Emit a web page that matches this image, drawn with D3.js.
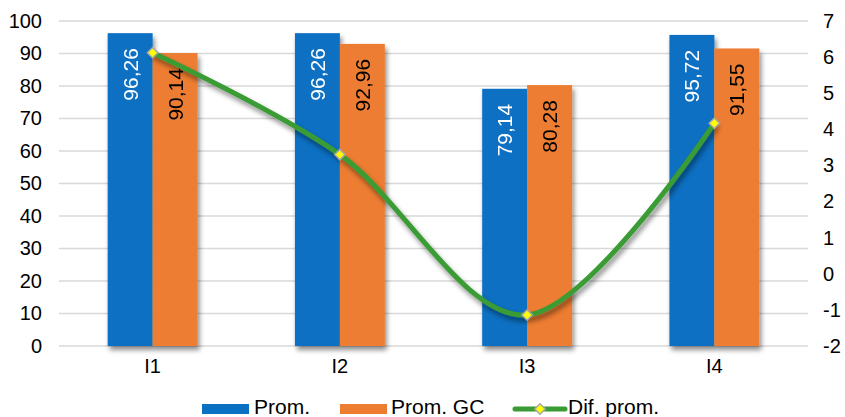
<!DOCTYPE html>
<html>
<head>
<meta charset="utf-8">
<script src="https://cdn.jsdelivr.net/npm/d3@7"></script>
<style>
  html, body { margin: 0; padding: 0; background: #fff; }
  svg { display: block; font-family: "Liberation Sans", Arial, Helvetica, sans-serif; }
</style>
</head>
<body>
<svg id="chart" width="845" height="417"></svg>
<script>
// Categories and series
const categories = ["I1", "I2", "I3", "I4"];
const prom = [96.26, 96.26, 79.14, 95.72];
const promGC = [90.14, 92.96, 80.28, 91.55];
const difProm = [6.12, 3.30, -1.14, 4.17];
const leftTicks = [0, 10, 20, 30, 40, 50, 60, 70, 80, 90, 100];
const rightTicks = [-2, -1, 0, 1, 2, 3, 4, 5, 6, 7];
const seriesNames = ["Prom.", "Prom. GC", "Dif. prom."];

const colors = { prom: "#0A70C2", gc: "#ED7D31", line: "#3A9B34", marker: "#FFFF00" };

const svg = d3.select("#chart");
const plot = { left: 59, right: 808, top: 21, bottom: 346 };

const locale = d3.formatLocale({ decimal: ",", thousands: ".", grouping: [3], currency: ["", ""], minus: "-" });
const fmt = locale.format(".2f");
const intFmt = locale.format("d");

const x = d3.scaleBand().domain(categories).range([plot.left, plot.right])
  .paddingInner(0.52).paddingOuter(0.26);
const xs = d3.scaleBand().domain(["prom", "gc"]).range([0, x.bandwidth()]);
const y = d3.scaleLinear().domain([0, 100]).range([plot.bottom, plot.top]);
const y2 = d3.scaleLinear().domain([-2, 7]).range([plot.bottom, plot.top]);

// Soft drop shadow used by bars and line
const defs = svg.append("defs");
const sh = defs.append("filter").attr("id", "shadow")
  .attr("x", "-20%").attr("y", "-20%").attr("width", "140%").attr("height", "140%");
sh.append("feDropShadow").attr("dx", 2).attr("dy", 4).attr("stdDeviation", 2.5)
  .attr("flood-color", "#000").attr("flood-opacity", 0.45);

// Horizontal gridlines
svg.append("g").selectAll("line").data(leftTicks).join("line")
  .attr("x1", plot.left).attr("x2", plot.right)
  .attr("y1", d => y(d)).attr("y2", d => y(d))
  .attr("stroke", "#D9D9D9").attr("stroke-width", 1.5);

// Axes (labels only)
function styleAxis(g) {
  g.select(".domain").remove();
  g.selectAll("text").attr("font-size", 20).attr("fill", "#000")
    .attr("font-family", "'Liberation Sans', Arial, sans-serif");
}
svg.append("g").attr("transform", `translate(${plot.left},0)`)
  .call(d3.axisLeft(y).tickValues(leftTicks).tickSize(0).tickPadding(17).tickFormat(intFmt))
  .call(styleAxis);
svg.append("g").attr("transform", `translate(${plot.right},0)`)
  .call(d3.axisRight(y2).tickValues(rightTicks).tickSize(0).tickPadding(15).tickFormat(intFmt))
  .call(styleAxis);
svg.append("g").attr("transform", `translate(0,${plot.bottom})`)
  .call(d3.axisBottom(x).tickSize(0).tickPadding(13))
  .call(styleAxis);

// Bars
const rows = categories.map((c, i) => ({ cat: c, prom: prom[i], gc: promGC[i] }));
const barG = svg.append("g").attr("filter", "url(#shadow)");
const groups = barG.selectAll("g").data(rows).join("g")
  .attr("transform", d => `translate(${x(d.cat)},0)`);
groups.selectAll("rect").data(d => [{ k: "prom", v: d.prom }, { k: "gc", v: d.gc }]).join("rect")
  .attr("x", d => xs(d.k)).attr("width", xs.bandwidth())
  .attr("y", d => y(d.v)).attr("height", d => y(0) - y(d.v))
  .attr("fill", d => colors[d.k]);

// Value labels inside bars, rotated
const labelG = svg.append("g");
rows.forEach(r => {
  [{ k: "prom", v: r.prom, c: "#fff" }, { k: "gc", v: r.gc, c: "#000" }].forEach(d => {
    const cx = x(r.cat) + xs(d.k) + xs.bandwidth() / 2 + 7.5;
    const ty = y(d.v) + 15;
    labelG.append("text")
      .attr("transform", `translate(${cx},${ty}) rotate(-90)`)
      .attr("text-anchor", "end")
      .attr("font-size", 21).attr("fill", d.c)
      .text(fmt(d.v));
  });
});

// Difference line on the secondary axis
const pts = categories.map((c, i) => [x(c) + x.bandwidth() / 2, y2(difProm[i])]);
const line = d3.line().curve(d3.curveCardinal.tension(0));
svg.append("path").attr("d", line(pts))
  .attr("fill", "none").attr("stroke", colors.line).attr("stroke-width", 5)
  .attr("stroke-linecap", "round").attr("filter", "url(#shadow)");

const diamond = d3.symbol().type(d3.symbolDiamond2).size(70);
svg.append("g").selectAll("path").data(pts).join("path")
  .attr("transform", d => `translate(${d[0]},${d[1]})`)
  .attr("d", diamond)
  .attr("fill", colors.marker).attr("stroke", "#A6A6A6").attr("stroke-width", 1.5);

// Legend
const lg = svg.append("g").attr("font-size", 21).attr("fill", "#000");
const legendBase = 414;
lg.append("rect").attr("x", 202).attr("y", 404).attr("width", 47).attr("height", 10).attr("fill", colors.prom);
lg.append("text").attr("x", 254).attr("y", legendBase).text(seriesNames[0]);
lg.append("rect").attr("x", 340).attr("y", 404).attr("width", 47).attr("height", 10).attr("fill", colors.gc);
lg.append("text").attr("x", 391).attr("y", legendBase).text(seriesNames[1]);
lg.append("line").attr("x1", 515).attr("x2", 565).attr("y1", 409).attr("y2", 409)
  .attr("stroke", colors.line).attr("stroke-width", 5).attr("stroke-linecap", "round");
lg.append("path").attr("transform", "translate(540,409)").attr("d", diamond)
  .attr("fill", colors.marker).attr("stroke", "#A6A6A6").attr("stroke-width", 1.5);
lg.append("text").attr("x", 568).attr("y", legendBase).text(seriesNames[2]);
</script>
</body>
</html>
